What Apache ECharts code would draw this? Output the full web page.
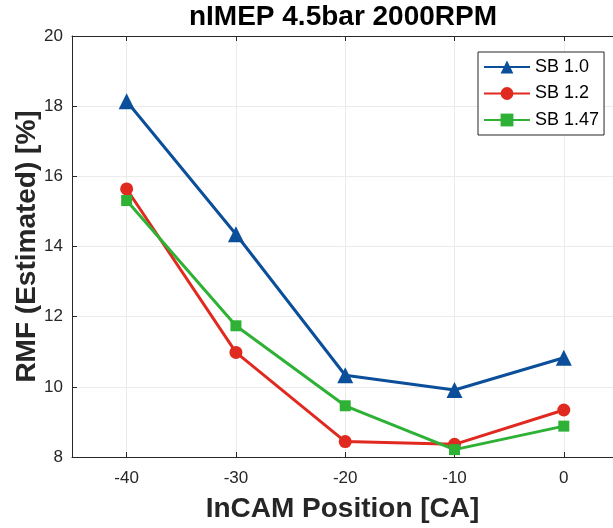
<!DOCTYPE html>
<html>
<head>
<meta charset="utf-8">
<script src="https://cdn.jsdelivr.net/npm/echarts@6/dist/echarts.min.js"></script>
<style>html,body{margin:0;padding:0;background:#fff}#c{width:613px;height:528px}</style>
</head>
<body>
<div id="c"></div>
<script>
var positions = [-40, -30, -20, -10, 0];
var xTicks = [-40, -30, -20, -10, 0];
var sb10 = [18.14, 14.35, 10.33, 9.91, 10.83];
var sb12 = [15.64, 10.98, 8.44, 8.36, 9.34];
var sb147 = [15.31, 11.74, 9.46, 8.21, 8.88];
var seriesNames = ['SB 1.0', 'SB 1.2', 'SB 1.47'];

function pairs(vals) { return positions.map(function (x, i) { return [x, vals[i]]; }); }

var axisColor = '#262626';
var font = 'Liberation Sans, Arial, sans-serif';
var chart = echarts.init(document.getElementById('c'), null, {renderer: 'canvas'});
chart.setOption({
  animation: false,
  backgroundColor: '#fff',
  graphic: [{
    type: 'text', x: 343, y: 17,
    style: {text: 'nIMEP 4.5bar 2000RPM', font: 'bold 28px ' + font, fill: '#000', align: 'center', verticalAlign: 'middle'}
  }],
  grid: {left: 72, right: 0, top: 36, bottom: 70.5, containLabel: false},
  legend: {
    orient: 'vertical', left: 478, top: 52,
    backgroundColor: '#fff', borderColor: axisColor, borderWidth: 1,
    padding: [6, 5, 6, 5], itemWidth: 46, itemHeight: 16, itemGap: 8.5,
    textStyle: {fontFamily: font, fontSize: 18, color: '#000', lineHeight: 16},
    data: seriesNames
  },
  xAxis: [{
    type: 'value', min: -45, max: 4.5,
    name: 'InCAM Position [CA]', nameLocation: 'middle', nameGap: 38, nameMoveOverlap: false,
    nameTextStyle: {fontFamily: font, fontSize: 28, fontWeight: 'bold', color: axisColor},
    axisLine: {show: true, onZero: false, lineStyle: {color: axisColor, width: 1}},
    axisTick: {show: true, inside: true, length: 5, customValues: xTicks, lineStyle: {color: axisColor}},
    axisLabel: {customValues: xTicks, margin: 13, fontFamily: font, fontSize: 17, color: axisColor},
    splitLine: {show: true, lineStyle: {color: '#ebebeb', width: 1}}
  }, {
    type: 'value', min: -45, max: 4.5, position: 'top',
    axisLine: {show: true, onZero: false, lineStyle: {color: axisColor, width: 1}},
    axisTick: {show: true, inside: true, length: 5, customValues: xTicks, lineStyle: {color: axisColor}},
    axisLabel: {show: false, customValues: xTicks},
    splitLine: {show: false}
  }],
  yAxis: {
    type: 'value', min: 8, max: 20, interval: 2,
    name: 'RMF (Estimated) [%]', nameLocation: 'middle', nameGap: 31, nameRotate: 90, nameMoveOverlap: false,
    nameTextStyle: {fontFamily: font, fontSize: 28, fontWeight: 'bold', color: axisColor},
    axisLine: {show: true, onZero: false, lineStyle: {color: axisColor, width: 1}},
    axisTick: {show: true, inside: true, length: 5, lineStyle: {color: axisColor}},
    axisLabel: {margin: 9, fontFamily: font, fontSize: 17, color: axisColor},
    splitLine: {show: true, lineStyle: {color: '#ebebeb', width: 1}}
  },
  series: [{
    name: seriesNames[0], type: 'line', data: pairs(sb10),
    symbol: 'triangle', symbolSize: 16,
    lineStyle: {color: '#0b4f9a', width: 3}, itemStyle: {color: '#0b4f9a'}
  }, {
    name: seriesNames[1], type: 'line', data: pairs(sb12),
    symbol: 'circle', symbolSize: 13,
    lineStyle: {color: '#e02a20', width: 3}, itemStyle: {color: '#e02a20'}
  }, {
    name: seriesNames[2], type: 'line', data: pairs(sb147),
    symbol: 'rect', symbolSize: 11,
    lineStyle: {color: '#2eb135', width: 3}, itemStyle: {color: '#2eb135'}
  }]
});
</script>
</body>
</html>
